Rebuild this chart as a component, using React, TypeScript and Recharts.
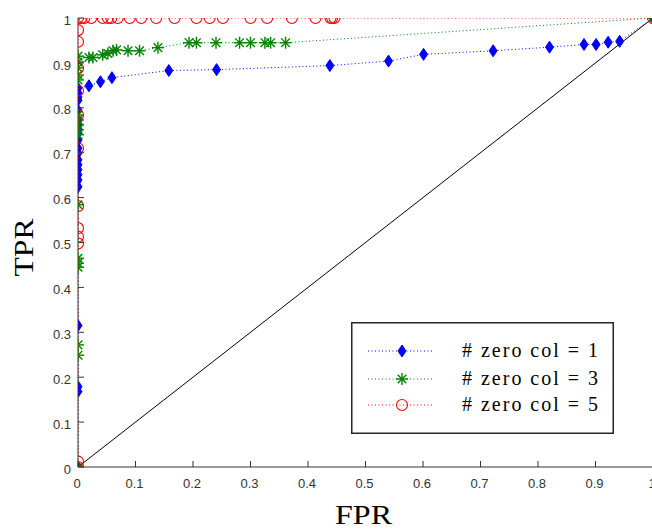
import { ScatterChart, Scatter, XAxis, YAxis, Legend } from 'recharts';

// ROC points (FPR, TPR)
const fprCol1 = [0, 0, 0, 0, 0, 0, 0, 0, 0, 0, 0, 0, 0, 0, 0, 0, 0, 0, 0, 0, 0, 0,
  0.019, 0.039, 0.059, 0.158, 0.241, 0.438, 0.54, 0.601, 0.722, 0.82, 0.88, 0.901, 0.922, 0.942, 1];
const tprCol1 = [0, 0.168, 0.179, 0.315, 0.624, 0.639, 0.651, 0.662, 0.673, 0.684, 0.699, 0.71, 0.728, 0.744, 0.751, 0.762, 0.773, 0.795, 0.817, 0.824, 0.833, 0.844,
  0.849, 0.858, 0.867, 0.883, 0.885, 0.894, 0.904, 0.919, 0.927, 0.935, 0.941, 0.941, 0.946, 0.948, 1];

const fprCol3 = [0, 0, 0, 0, 0, 0, 0, 0, 0, 0, 0, 0, 0, 0, 0, 0, 0,
  0.019, 0.026, 0.043, 0.052, 0.061, 0.067, 0.087, 0.107, 0.139, 0.193, 0.206, 0.24, 0.281, 0.3, 0.325, 0.335, 0.361, 1];
const tprCol3 = [0, 0.249, 0.272, 0.445, 0.454, 0.465, 0.584, 0.74, 0.751, 0.762, 0.773, 0.784, 0.862, 0.873, 0.889, 0.902, 0.915,
  0.912, 0.912, 0.918, 0.921, 0.927, 0.929, 0.927, 0.927, 0.934, 0.945, 0.945, 0.945, 0.945, 0.945, 0.945, 0.945, 0.945, 1];

const fprCol5 = [0, 0, 0, 0, 0, 0, 0, 0, 0, 0, 0, 0, 0,
  0.006, 0.011, 0.023, 0.043, 0.052, 0.058, 0.069, 0.09, 0.11, 0.136, 0.168, 0.206, 0.229, 0.252, 0.3, 0.329, 0.372, 0.413, 0.439, 0.442, 0.446, 1];
const tprCol5 = [0, 0.012, 0.498, 0.513, 0.532, 0.581, 0.71, 0.784, 0.838, 0.888, 0.947, 0.973, 1,
  1, 1, 1, 1, 1, 1, 1, 1, 1, 1, 1, 1, 1, 1, 1, 1, 1, 1, 1, 1, 1, 1];

// chance line
const fprChance = [0, 1];
const tprChance = [0, 1];

const ticks = [0, 0.1, 0.2, 0.3, 0.4, 0.5, 0.6, 0.7, 0.8, 0.9, 1];
const legendLabels = ['# zero col = 1', '# zero col = 3', '# zero col = 5'];

const toPoints = (xs: number[], ys: number[]) => xs.map((x, i) => ({ x, y: ys[i] }));

const BLUE = '#0000ff';
const GREEN = '#008000';
const RED = '#ff0000';
const AXIS = '#333';
const TICK_TEXT = '#333';
const SANS = "'Liberation Sans', Arial, sans-serif";
const SERIF = "'Liberation Serif', 'Times New Roman', serif";
const TICK_LEN = 6;
const X_GAP = 12; // gap between bottom axis and its labels
const Y_GAP = 7;  // gap between left axis and its labels

const Diamond = ({ cx, cy }: any) => (
  <polygon points={`${cx},${cy - 6} ${cx + 4},${cy} ${cx},${cy + 6} ${cx - 4},${cy}`} fill={BLUE} stroke={BLUE} />
);

const Star = ({ cx, cy }: any) => {
  const r = 6;
  const d = r * 0.72;
  return (
    <g stroke={GREEN} strokeWidth={1.4}>
      <line x1={cx} y1={cy - r} x2={cx} y2={cy + r} />
      <line x1={cx - r} y1={cy} x2={cx + r} y2={cy} />
      <line x1={cx - d} y1={cy - d} x2={cx + d} y2={cy + d} />
      <line x1={cx - d} y1={cy + d} x2={cx + d} y2={cy - d} />
    </g>
  );
};

const Ring = ({ cx, cy }: any) => (
  <circle cx={cx} cy={cy} r={5.5} fill="none" stroke={RED} strokeWidth={1.1} />
);

const NoMarker = () => <g />;

const series = [
  { data: toPoints(fprCol1, tprCol1), color: BLUE, shape: Diamond },
  { data: toPoints(fprCol3, tprCol3), color: GREEN, shape: Star },
  { data: toPoints(fprCol5, tprCol5), color: RED, shape: Ring },
];

const fmt = (v: number) => String(+v.toFixed(1));

// MATLAB style: tick marks point into the plot box
const BottomTick = ({ x, y, payload }: any) => {
  const axisY = y - X_GAP;
  return (
    <g>
      <line x1={x} y1={axisY} x2={x} y2={axisY - TICK_LEN} stroke={AXIS} />
      <text x={x - 1} y={y} dy="0.71em" textAnchor="middle" fill={TICK_TEXT} fontSize={13} style={{ fontFamily: SANS }}>
        {fmt(payload.value)}
      </text>
    </g>
  );
};

const LeftTick = ({ x, y, payload }: any) => {
  const axisX = x + Y_GAP;
  return (
    <g>
      <line x1={axisX} y1={y} x2={axisX + TICK_LEN} y2={y} stroke={AXIS} />
      <text x={x} y={y + 2} dy="0.355em" textAnchor="end" fill={TICK_TEXT} fontSize={13} style={{ fontFamily: SANS }}>
        {fmt(payload.value)}
      </text>
    </g>
  );
};

const TopTick = ({ x, y }: any) => <line x1={x} y1={y} x2={x} y2={y + TICK_LEN} stroke={AXIS} />;
const RightTick = ({ x, y }: any) => <line x1={x} y1={y} x2={x - TICK_LEN} y2={y} stroke={AXIS} />;

const renderLegend = () => {
  const rows = [29, 57, 83];
  return (
    <svg width={263} height={112} style={{ display: 'block' }}>
      <rect x={0.75} y={0.75} width={261.5} height={110.5} fill="#fff" stroke="#262626" strokeWidth={1.5} />
      {series.map((s, i) => {
        const M = s.shape;
        return (
          <g key={i}>
            <line x1={17} y1={rows[i]} x2={82} y2={rows[i]} stroke={s.color} strokeDasharray="1 2.5" />
            <M cx={51} cy={rows[i]} />
            <text x={111} y={rows[i] + 6} fontSize={20} fill="#000" style={{ fontFamily: SERIF }}
              textLength={136} lengthAdjust="spacing">
              {legendLabels[i]}
            </text>
          </g>
        );
      })}
    </svg>
  );
};

export default function App() {
  return (
    <div style={{ position: 'absolute', left: 0, top: 0, width: 652, height: 529, overflow: 'hidden', background: '#fff' }}>
      <ScatterChart width={660} height={529} margin={{ top: 18, right: 7, bottom: 0, left: 0 }}>
        <XAxis
          xAxisId="bottom" dataKey="x" type="number" domain={[0, 1]} ticks={ticks} allowDataOverflow
          tickSize={0} tickMargin={X_GAP} tickLine={false} height={62} stroke={AXIS}
          tick={(p: any) => <BottomTick {...p} />}
          label={{
            content: ({ viewBox }: any) => (
              <text x={viewBox.x + viewBox.width / 2 - 2} y={viewBox.y + 57} textAnchor="middle"
                fontSize={28} fill="#000" style={{ fontFamily: SERIF }} textLength={57} lengthAdjust="spacingAndGlyphs">
                FPR
              </text>
            ),
          }}
        />
        <XAxis xAxisId="top" dataKey="x" orientation="top" type="number" domain={[0, 1]} ticks={ticks} allowDataOverflow
          tickSize={0} tickMargin={0} tickLine={false} height={0} stroke={AXIS}
          tick={(p: any) => <TopTick {...p} />} />
        <YAxis
          yAxisId="left" dataKey="y" type="number" domain={[0, 1]} ticks={ticks} allowDataOverflow
          tickSize={0} tickMargin={Y_GAP} tickLine={false} width={78} stroke={AXIS}
          tick={(p: any) => <LeftTick {...p} />}
          label={{
            content: ({ viewBox }: any) => {
              const cx = 33;
              const cy = viewBox.y + viewBox.height / 2 + 5;
              return (
                <text x={cx} y={cy} textAnchor="middle" transform={`rotate(-90 ${cx} ${cy})`}
                  fontSize={28} fill="#000" style={{ fontFamily: SERIF }} textLength={58} lengthAdjust="spacingAndGlyphs">
                  TPR
                </text>
              );
            },
          }}
        />
        <YAxis yAxisId="right" dataKey="y" orientation="right" type="number" domain={[0, 1]} ticks={ticks} allowDataOverflow
          tickSize={0} tickMargin={0} tickLine={false} width={0} stroke={AXIS}
          tick={(p: any) => <RightTick {...p} />} />
        <Scatter
          xAxisId="top"
          yAxisId="right"
          data={toPoints(fprChance, tprChance)}
          line={{ stroke: '#000', strokeWidth: 1 }}
          lineType="joint"
          shape={NoMarker}
          isAnimationActive={false}
        />
        {series.map((s, i) => (
          <Scatter
            key={i}
            xAxisId="bottom"
            yAxisId="left"
            data={s.data}
            line={{ stroke: s.color, strokeWidth: 1, strokeDasharray: '1 2.5' }}
            lineType="joint"
            shape={s.shape}
            isAnimationActive={false}
          />
        ))}
        <Legend content={renderLegend} layout="vertical" align="center" verticalAlign="middle"
          wrapperStyle={{ left: 351, top: 322, width: 263, height: 112 }} />
      </ScatterChart>
    </div>
  );
}
